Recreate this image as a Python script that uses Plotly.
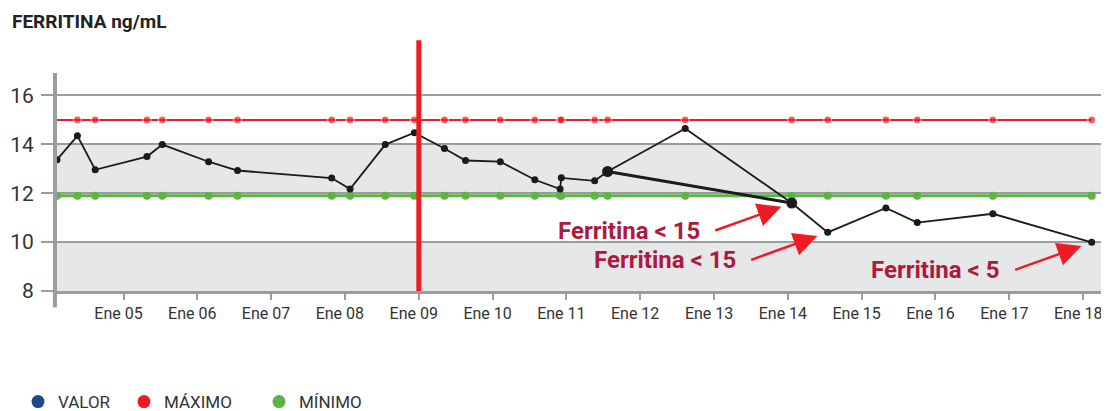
import plotly.graph_objects as go

# Ferritina: serie de valores con máximos/mínimos de referencia
fechas = [
    "2004-02-07", "2004-05-18", "2004-08-14", "2005-04-27", "2005-07-12",
    "2006-02-26", "2006-07-19", "2007-10-28", "2008-01-27", "2008-07-19",
    "2008-12-10", "2009-05-08", "2009-08-20", "2010-02-08", "2010-07-29",
    "2010-12-01", "2010-12-07", "2011-05-21", "2011-07-24", "2012-08-11",
    "2014-01-20", "2014-07-17", "2015-05-01", "2015-10-03", "2016-10-11",
    "2018-02-12",
]
valor = [
    13.37, 14.35, 12.96, 13.50, 13.99, 13.29, 12.93, 12.62, 12.17, 13.99,
    14.48, 13.83, 13.34, 13.29, 12.55, 12.17, 12.63, 12.51, 12.89, 14.65,
    11.60, 10.40, 11.40, 10.80, 11.16, 9.99,
]
maximo = [15] * 26
minimo = [11.9] * 26

destacados_fecha = ["2011-07-24", "2014-01-20"]
destacados_valor = [12.89, 11.60]

corte_fecha = "2009-01-01"

anios = list(range(2005, 2019))
tick_fechas = [f"{a}-01-01" for a in anios]
tick_textos = [f"Ene {a % 100:02d}" for a in anios]
y_ticks = [8, 10, 12, 14, 16]
bandas = [(8, 10), (12, 14)]

# (índice del punto, texto)
avisos = [(20, "Ferritina < 15"), (21, "Ferritina < 15"), (25, "Ferritina < 5")]

NEGRO = "#1b1b1b"
ROJO = "#ed1c24"
VERDE = "#5bb543"
AZUL = "#1d4a8c"
GRIS = "#9b9c9e"
BANDA = "#e6e7e8"
GRANATE = "#ad1a3d"
TEXTO = "#333333"
FUENTE = "Roboto, Liberation Sans, sans-serif"

# la página deja 8px de margen al cuerpo: el lienzo se reduce en esa medida
ANCHO, ALTO = 1109 - 8, 411 - 8

fig = go.Figure()

fig.add_trace(go.Scatter(
    x=fechas, y=maximo, mode="lines+markers",
    line=dict(color=ROJO, width=2),
    marker=dict(color=ROJO, size=[0] + [8] * (len(fechas) - 1)),
    showlegend=False, cliponaxis=False,
))
fig.add_trace(go.Scatter(
    x=fechas, y=minimo, mode="lines+markers",
    line=dict(color=VERDE, width=3),
    marker=dict(color=VERDE, size=8),
    showlegend=False, cliponaxis=False,
))
fig.add_trace(go.Scatter(
    x=fechas, y=valor, mode="lines+markers",
    line=dict(color=NEGRO, width=1.8),
    marker=dict(color=NEGRO, size=7),
    showlegend=False, cliponaxis=False,
))
fig.add_trace(go.Scatter(
    x=destacados_fecha, y=destacados_valor, mode="lines+markers",
    line=dict(color=NEGRO, width=3),
    marker=dict(color=NEGRO, size=11),
    showlegend=False, cliponaxis=False,
))

# leyenda solo con puntos, una por entrada para fijar su posición
entradas = [("VALOR", AZUL, 10), ("MÁXIMO", ROJO, 116), ("MÍNIMO", VERDE, 251)]
for k, (nombre, color, _) in enumerate(entradas):
    fig.add_trace(go.Scatter(
        x=[None], y=[None], mode="markers", name=nombre,
        legend="legend" if k == 0 else f"legend{k + 1}",
        marker=dict(color=color, size=13),
    ))

for y0, y1 in bandas:
    fig.add_shape(type="rect", xref="paper", x0=0, x1=1, y0=y0, y1=y1,
                  fillcolor=BANDA, line_width=0, layer="below")

fig.add_shape(type="line", xref="x", yref="paper", x0=corte_fecha, x1=corte_fecha,
              y0=0, y1=1.15, line=dict(color=ROJO, width=5))

# prolongación del eje Y bajo el eje X
fig.add_shape(type="line", xref="paper", yref="paper", x0=-0.002, x1=-0.002,
              y0=-0.075, y1=0, line=dict(color=GRIS, width=4))

for i, texto in avisos:
    fig.add_annotation(
        x=fechas[i], y=valor[i], ax=-78, ay=28, text="",
        showarrow=True, arrowhead=2, arrowsize=1.9, arrowwidth=2.5,
        arrowcolor=ROJO, standoff=11,
    )
    fig.add_annotation(
        x=fechas[i], y=valor[i], text=f"<b>{texto}</b>", showarrow=False,
        xanchor="right", yanchor="middle", xshift=-90, yshift=-28,
        font=dict(family=FUENTE, size=24, color=GRANATE),
    )

fig.add_annotation(
    xref="paper", yref="paper", x=(10 - 57) / 1045, y=1 + (73 - 22) / 218,
    xanchor="left", yanchor="middle", showarrow=False,
    text="<b>FERRITINA ng/mL</b>",
    font=dict(family=FUENTE, size=19, color="#222222"),
)

leyendas = {}
for k, (_, _, izq) in enumerate(entradas):
    clave = "legend" if k == 0 else f"legend{k + 1}"
    leyendas[clave] = dict(
        orientation="h", xref="container", yref="container",
        x=izq / ANCHO, xanchor="left", y=1 - (402 - 8) / ALTO, yanchor="middle",
        font=dict(size=17, color=TEXTO), bgcolor="rgba(0,0,0,0)",
    )

fig.update_layout(
    width=ANCHO, height=ALTO,
    margin=dict(l=49, r=7, t=65, b=120, autoexpand=False),
    paper_bgcolor="white", plot_bgcolor="white",
    font=dict(family=FUENTE, color=TEXTO),
    xaxis=dict(
        type="date", range=["2004-02-07", "2018-04-04"],
        tickmode="array", tickvals=tick_fechas, ticktext=tick_textos,
        ticks="outside", ticklen=6, tickwidth=2, tickcolor=GRIS,
        showline=True, linecolor=GRIS, linewidth=3,
        showgrid=False, zeroline=False, automargin=False,
        ticklabeloverflow="allow", ticklabelshift=-5,
        tickfont=dict(size=16, color=TEXTO),
    ),
    yaxis=dict(
        range=[8, 16.92], tickvals=y_ticks,
        ticks="outside", ticklen=12, tickwidth=1.5, tickcolor=GRIS,
        showline=True, linecolor=GRIS, linewidth=4,
        showgrid=True, gridcolor=GRIS, gridwidth=1.5, zeroline=False,
        automargin=False,
        tickfont=dict(size=21, color=TEXTO), ticklabelstandoff=3,
    ),
    **leyendas,
)

fig.write_html("out.html")
